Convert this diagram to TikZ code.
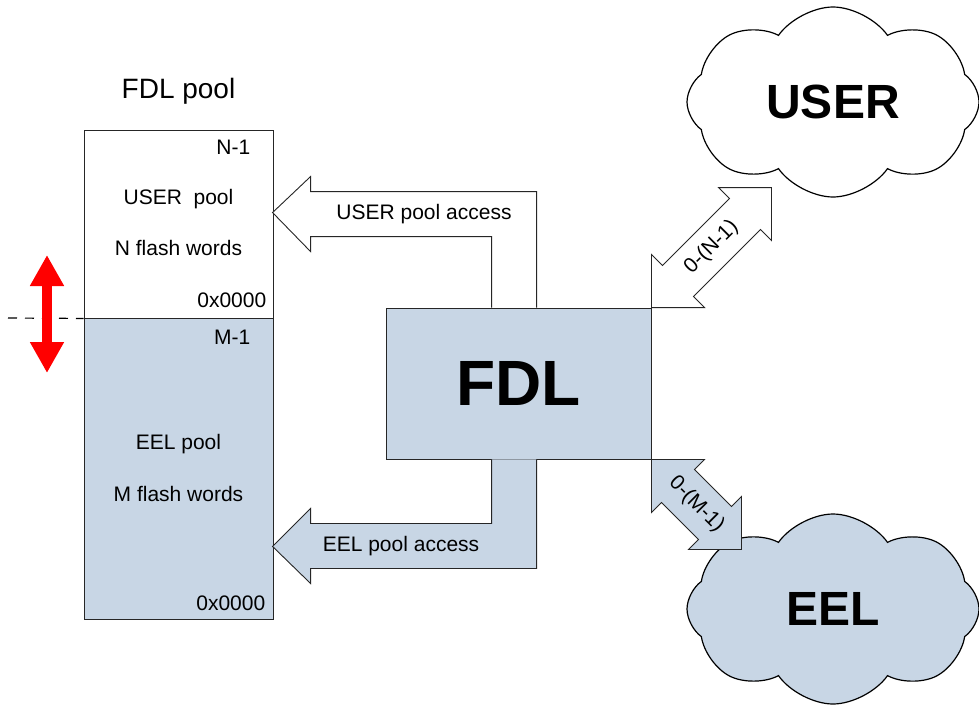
\documentclass[tikz,border=0pt]{standalone}
\usepackage{fontspec}
\setmainfont{Liberation Sans}
\usetikzlibrary{shapes, shapes.symbols, arrows.meta, positioning, calc}
\definecolor{poolblue}{RGB}{200,214,229}

\begin{document}
\begin{tikzpicture}[
    x=1pt, y=-1pt,
    box/.style={rectangle, draw=black!85, line width=0.9pt, inner sep=0pt},
    txt/.style={inner sep=0pt, font=\fontsize{21}{25}\selectfont},
    blockarrow/.style={draw=black!85, line width=0.9pt, line join=miter},
    bubble/.style={cloud, cloud puffs=8, cloud puff arc=110, aspect=1.5, draw=black, line width=1.2pt, minimum width=292pt, minimum height=190pt, inner sep=0pt, font=\fontsize{48}{56}\selectfont\bfseries}
]
\useasboundingbox (0,0) rectangle (979,704);

% Pool memory
\node[box, fill=white, minimum width=189pt, minimum height=188pt] (userpool) at (178.5,224) {};
\node[box, fill=poolblue, minimum width=189pt, minimum height=301pt, below=0pt of userpool] (eelpool) {};
\node[txt, font=\fontsize{28}{32}\selectfont, above=25pt of userpool] (pooltitle) {FDL pool};

\node[txt, anchor=east] (usertop) at ([xshift=-23pt, yshift=-18pt]userpool.north east) {N-1};
\node[txt] (username) at ([yshift=25pt]userpool.center) {USER~~pool};
\node[txt] (usersize) at ([yshift=-24pt]userpool.center) {N flash words};
\node[txt, anchor=east] (userbot) at ([xshift=-7pt, yshift=18pt]userpool.south east) {0x0000};
\node[txt, anchor=east] (eeltop) at ([xshift=-23pt, yshift=-19pt]eelpool.north east) {M-1};
\node[txt] (eelname) at ([yshift=25pt]eelpool.center) {EEL pool};
\node[txt] (eelsize) at ([yshift=-25pt]eelpool.center) {M flash words};
\node[txt, anchor=east] (eelbot) at ([xshift=-8pt, yshift=17pt]eelpool.south east) {0x0000};

% Pool boundary
\coordinate (bndstart) at (8,318);
\coordinate (shifttop) at (47,255);
\coordinate (shiftbot) at (47,373);
\draw[black, line width=1.2pt, dash pattern=on 9pt off 8pt] (bndstart) -- (userpool.south west);
\draw[red, line width=10pt, {Triangle[width=32pt,length=31pt]}-{Triangle[width=32pt,length=31pt]}] (shifttop) -- (shiftbot);

% FDL
\node[box, fill=poolblue, minimum width=265pt, minimum height=151pt, font=\fontsize{64}{70}\selectfont\bfseries] (fdl) at (518.5,383.5) {FDL};

% Pool access
\draw[blockarrow, fill=white] ([xshift=106pt]fdl.north west) -- ++(0,-71) -- ++(-181,0) -- ++(0,15) -- ++(-38,-39)
    -- ++(38,-36) -- ++(0,15) -- ++(226,0) -- ++(0,116);
\draw[blockarrow, fill=poolblue] ([xshift=106pt]fdl.south west) -- ++(0,64) -- ++(-181,0) -- ++(0,-15) -- ++(-38,38)
    -- ++(38,37) -- ++(0,-15) -- ++(226,0) -- ++(0,-109);
\node[txt] (useracc) at (424,214) {USER pool access};
\node[txt] (eelacc) at (401,546) {EEL pool access};

% Clients
\node[bubble, fill=white] (usercloud) at (833,102) {USER};
\node[bubble, fill=poolblue] (eelcloud) at (833,609) {EEL};

\draw[blockarrow, fill=white] (fdl.north east) -- ++(0,-53) -- ++(11,11) -- ++(67,-67) -- ++(-11,-11) -- ++(53,0)
    -- ++(0,53) -- ++(-11,-11) -- ++(-67,67) -- ++(11,11) -- cycle;
\draw[blockarrow, fill=poolblue] (fdl.south east) -- ++(53,0) -- ++(-10,10) -- ++(37,37) -- ++(10,-10) -- ++(0,53)
    -- ++(-53,0) -- ++(10,-10) -- ++(-37,-37) -- ++(-10,10) -- cycle;
\node[txt, rotate=45] (userrange) at ($(fdl.north east)+(60,-60)$) {0-(N-1)};
\node[txt, rotate=-45] (eelrange) at ($(fdl.south east)+(45,45)$) {0-(M-1)};

\end{tikzpicture}
\end{document}
